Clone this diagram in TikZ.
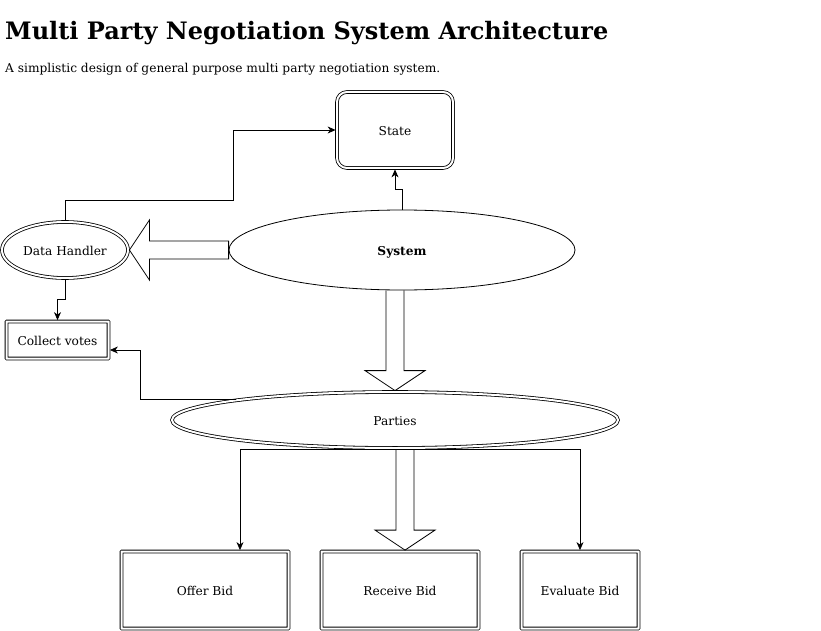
\documentclass[tikz,border=0pt]{standalone}
\usepackage{fontspec}
\setmainfont{DejaVu Serif}
\usetikzlibrary{arrows.meta}
\usetikzlibrary{calc}
\usetikzlibrary{positioning}
\usetikzlibrary{shapes.geometric}

\tikzset{
	dblbox/.style={draw, double, double distance=2pt, line width=0.8pt, rounded corners=0.4pt, inner sep=0pt, outer sep=1.4pt, text height=11pt, text depth=0pt, font=\fontsize{12.2}{14}\selectfont},
	dblell/.style={dblbox, ellipse},
	conn/.style={line width=0.8pt, -{Stealth[length=8pt,width=7pt,inset=2.5pt]}},
	fatarrow/.style={line width=0.8pt, line join=miter}
}

\begin{document}
\begin{tikzpicture}[x=1pt,y=-1pt]
		\useasboundingbox (0,0) rectangle (821,631);
		
		% heading
		\node[anchor=west, inner sep=0, font=\bfseries\fontsize{24}{28}\selectfont] (title) at (5,33) {Multi Party Negotiation System Architecture};
		\node[anchor=west, inner sep=0, font=\fontsize{12.2}{14}\selectfont] (subtitle) at (5,69.5) {A simplistic design of general purpose multi party negotiation system.};
		
		% components
		\node[dblbox, rounded corners=10pt, minimum width=116pt, minimum height=76pt] (state) at (395,130) {State};
		\node[draw, ellipse, line width=0.8pt, inner sep=0pt, text height=11pt, text depth=0pt, minimum width=346pt, minimum height=80pt, font=\bfseries\fontsize{12.2}{14}\selectfont] (sys) at (402,250) {System};
		\node[dblell, minimum width=126pt, minimum height=56pt] (dh) at (65,250) {Data Handler};
		\node[dblbox, minimum width=102pt, minimum height=37pt] (votes) at (57.5,340) {Collect votes};
		\node[dblell, minimum width=446pt, minimum height=56pt] (parties) at (395,420) {Parties};
		\node[dblbox, minimum width=167pt, minimum height=77pt] (offer) at (205,590) {Offer Bid};
		\node[dblbox, minimum width=157pt, minimum height=77pt] (recv) at (400,590) {Receive Bid};
		\node[dblbox, minimum width=117pt, minimum height=77pt] (eval) at (580,590) {Evaluate Bid};
		
		% plain connectors
		\draw[conn] (dh.north) |- (233,200) |- (state.west);
		\draw[conn] (sys.north) -- ++(0,-20) -| (state.south);
		\draw[conn] (dh.south) -- ++(0,20) -| (votes.north);
		\draw[conn] (parties.north west) -- ++(-96,0) |- ($(votes.east)+(0,10)$);
		\draw[conn] (parties.south) -| ($(offer.north)+(35,0)$);
		\draw[conn] (parties.south) -| (eval.north);
		
		% block arrows
		\draw[fatarrow] ($(sys.west)+(0,-9)$) -- ($(dh.east)+(20,-9)$) -- ($(dh.east)+(20,-30)$) -- (dh.east) -- ($(dh.east)+(20,30)$) -- ($(dh.east)+(20,9)$) -- ($(sys.west)+(0,9)$) -- cycle;
		\coordinate (ptip) at (parties.north);
		\coordinate (pbase) at (sys.south -| ptip);
		\draw[fatarrow] ($(pbase)+(-9,0)$) -- ($(ptip)+(-9,-20)$) -- ($(ptip)+(-30,-20)$) -- (ptip) -- ($(ptip)+(30,-20)$) -- ($(ptip)+(9,-20)$) -- ($(pbase)+(9,0)$);
		\coordinate (rtip) at ($(recv.north)+(5,0)$);
		\coordinate (rbase) at (parties.south -| rtip);
		\draw[fatarrow] ($(rbase)+(-9,0)$) -- ($(rtip)+(-9,-20)$) -- ($(rtip)+(-30,-20)$) -- (rtip) -- ($(rtip)+(30,-20)$) -- ($(rtip)+(9,-20)$) -- ($(rbase)+(9,0)$);
	\end{tikzpicture}
\end{document}
